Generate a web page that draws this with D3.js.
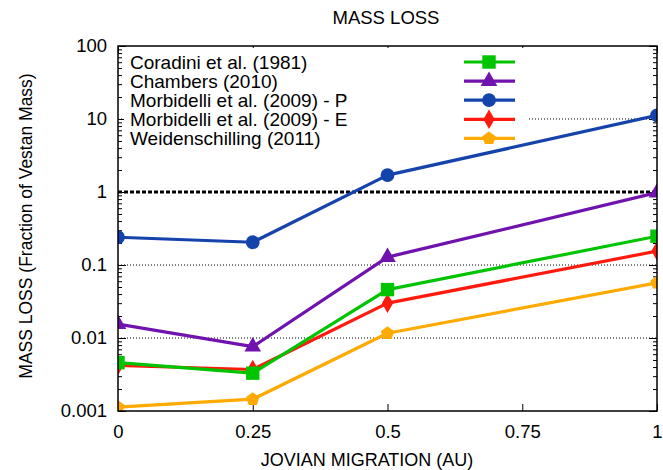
<!DOCTYPE html>
<html>
<head>
<meta charset="utf-8">
<script src="https://cdn.jsdelivr.net/npm/d3@7"></script>
<style>
  body { margin: 0; background: #fff; }
  svg { display: block; font-family: "Liberation Sans", Arial, sans-serif; }
</style>
</head>
<body>
<svg width="663" height="470"></svg>
<script>
// x values (AU of Jovian migration)
const migration = [0, 0.25, 0.5, 1];
const xTicks = [0, 0.25, 0.5, 0.75, 1];
const yTicks = [0.001, 0.01, 0.1, 1, 10, 100];

const seriesNames = [
  "Coradini et al. (1981)",
  "Chambers (2010)",
  "Morbidelli et al. (2009) - P",
  "Morbidelli et al. (2009) - E",
  "Weidenschilling (2011)"
];
const coradini = [0.0046, 0.0033, 0.046, 0.248];
const chambers = [0.0155, 0.0076, 0.128, 0.98];
const morbidelliP = [0.24, 0.205, 1.7, 11.2];
const morbidelliE = [0.0042, 0.0037, 0.030, 0.155];
const weidenschilling = [0.00113, 0.00145, 0.0116, 0.057];

const colors = ["#00c400", "#7012ae", "#1443ab", "#ff1a0d", "#ffaa00"];
const symbols = [d3.symbolSquare, d3.symbolTriangle, d3.symbolCircle, d3.symbolDiamond, "pentagon"];
const symbolSizes = [180, 120, 150, 110, 130];

const allSeries = [coradini, chambers, morbidelliP, morbidelliE, weidenschilling];

const margin = { left: 118, right: 6, top: 46, bottom: 59 };
const width = 663, height = 470;

const svg = d3.select("svg");

const x = d3.scaleLinear().domain([0, 1]).range([margin.left, width - margin.right]);
const y = d3.scaleLog().domain([0.001, 100]).range([height - margin.bottom, margin.top]);

const x0 = x.range()[0], x1 = x.range()[1];
const y0 = y.range()[0], y1 = y.range()[1];

svg.append("defs").append("clipPath").attr("id", "plot")
  .append("rect").attr("x", x0).attr("y", y1).attr("width", x1 - x0).attr("height", y0 - y1);

// grid lines
[10, 0.1, 0.01].forEach(v => {
  svg.append("line")
    .attr("x1", x0).attr("x2", x1)
    .attr("y1", y(v)).attr("y2", y(v))
    .attr("stroke", "#000").attr("stroke-width", 1)
    .attr("stroke-dasharray", "1,2");
});
svg.append("line")
  .attr("x1", x0).attr("x2", x1)
  .attr("y1", y(1)).attr("y2", y(1))
  .attr("stroke", "#000").attr("stroke-width", 3)
  .attr("stroke-dasharray", "4,2");

// axes (ticks inside)
const minor = [];
for (let e = -3; e < 2; e++) {
  for (let m = 2; m <= 9; m++) minor.push(m * Math.pow(10, e));
}

svg.append("g")
  .attr("transform", `translate(${x0},0)`)
  .call(d3.axisRight(y).tickValues(minor).tickSize(4).tickFormat(""))
  .call(g => g.select(".domain").remove());
svg.append("g")
  .attr("transform", `translate(${x1},0)`)
  .call(d3.axisLeft(y).tickValues(minor).tickSize(4).tickFormat(""))
  .call(g => g.select(".domain").remove());
svg.append("g")
  .attr("transform", `translate(${x1},0)`)
  .call(d3.axisLeft(y).tickValues(yTicks).tickSize(8).tickFormat(""))
  .call(g => g.select(".domain").remove());

const yAxis = svg.append("g")
  .attr("transform", `translate(${x0},0)`)
  .call(d3.axisRight(y).tickValues(yTicks).tickSize(8).tickFormat(d3.format("~g")))
  .call(g => g.select(".domain").remove());
yAxis.selectAll("text")
  .attr("x", -11).attr("text-anchor", "end")
  .attr("font-size", 18.5).attr("font-family", "Liberation Sans, Arial, sans-serif")
  .attr("fill", "#000");

const xAxis = svg.append("g")
  .attr("transform", `translate(0,${y0})`)
  .call(d3.axisTop(x).tickValues(xTicks).tickSize(7).tickFormat(d3.format("~g")))
  .call(g => g.select(".domain").remove());
xAxis.selectAll("text")
  .attr("y", 27).attr("dy", 0)
  .attr("font-size", 18.5).attr("font-family", "Liberation Sans, Arial, sans-serif")
  .attr("fill", "#000");
svg.append("g")
  .attr("transform", `translate(0,${y1})`)
  .call(d3.axisBottom(x).tickValues(xTicks).tickSize(7).tickFormat(""))
  .call(g => g.select(".domain").remove());

// legend background hides the grid behind it
const legendX = 130, legendY = 62, legendStep = 19.1;
svg.append("rect")
  .attr("x", 124).attr("y", y1 + 2).attr("width", 403).attr("height", 102)
  .attr("fill", "#fff");

// pentagon path
function pentagon(r) {
  const pts = d3.range(5).map(i => {
    const a = -Math.PI / 2 + i * 2 * Math.PI / 5;
    return [r * Math.cos(a), r * Math.sin(a)];
  });
  return "M" + pts.map(p => p.join(",")).join("L") + "Z";
}
function markerPath(i) {
  if (symbols[i] === "pentagon") return pentagon(7);
  return d3.symbol().type(symbols[i]).size(symbolSizes[i])();
}

// series
const line = d3.line().x((d, i) => x(migration[i])).y(d => y(d));
const plot = svg.append("g").attr("clip-path", "url(#plot)");

// draw in order so that later series sit on top (orange, red, blue, purple, green)
const order = [4, 3, 2, 1, 0];
order.forEach(s => {
  plot.append("path")
    .datum(allSeries[s])
    .attr("d", line)
    .attr("fill", "none")
    .attr("stroke", colors[s])
    .attr("stroke-width", 3.2)
    .attr("stroke-linejoin", "round");
  plot.selectAll(null)
    .data(allSeries[s])
    .enter()
    .append("path")
    .attr("d", markerPath(s))
    .attr("transform", (d, i) => `translate(${x(migration[i])},${y(d)})`)
    .attr("fill", colors[s]);
});

// frame
svg.append("rect")
  .attr("x", x0).attr("y", y1).attr("width", x1 - x0).attr("height", y0 - y1)
  .attr("fill", "none").attr("stroke", "#000").attr("stroke-width", 1.5);

// legend
seriesNames.forEach((name, i) => {
  const ly = legendY + i * legendStep;
  svg.append("text")
    .attr("x", legendX).attr("y", ly + 7)
    .attr("font-size", 19)
    .text(name);
  svg.append("line")
    .attr("x1", 464).attr("x2", 515)
    .attr("y1", ly).attr("y2", ly)
    .attr("stroke", colors[i]).attr("stroke-width", 3.2);
  svg.append("path")
    .attr("d", markerPath(i))
    .attr("transform", `translate(489,${ly})`)
    .attr("fill", colors[i]);
});

// titles
svg.append("text")
  .attr("x", 386).attr("y", 24)
  .attr("text-anchor", "middle").attr("font-size", 18.5)
  .text("MASS LOSS");

svg.append("text")
  .attr("x", 367).attr("y", 466)
  .attr("text-anchor", "middle").attr("font-size", 18)
  .text("JOVIAN MIGRATION (AU)");

svg.append("text")
  .attr("transform", "translate(32,226) rotate(-90)")
  .attr("text-anchor", "middle").attr("font-size", 17.5)
  .text("MASS LOSS (Fraction of Vestan Mass)");
</script>
</body>
</html>
